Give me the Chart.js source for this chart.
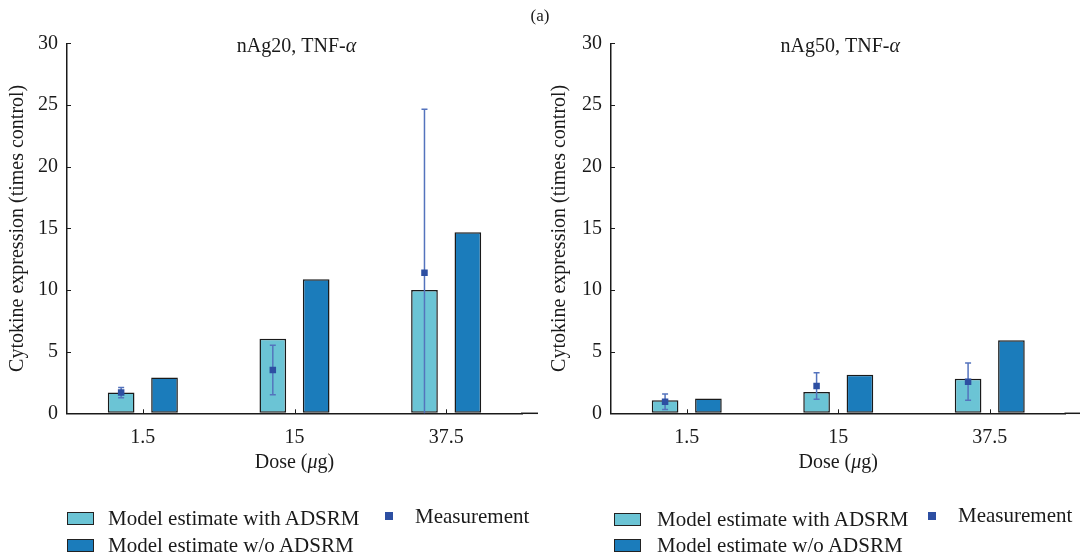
<!DOCTYPE html>
<html>
<head>
<meta charset="utf-8">
<script src="https://cdn.jsdelivr.net/npm/chart.js@4.4.1/dist/chart.umd.min.js"></script>
<style>
html,body{margin:0;padding:0;background:#fff;}
#wrap{position:relative;width:1080px;height:558px;overflow:hidden;font-family:"Liberation Serif","DejaVu Serif",serif;color:#1a1a1a;}
.cv{position:absolute;top:0;width:540px;height:558px;}
.lg{position:absolute;font-size:21px;line-height:22px;white-space:nowrap;}
.box{position:absolute;width:27px;height:13px;box-sizing:border-box;border:1.5px solid #222;}
.sq{position:absolute;width:8px;height:8px;}
#cap{position:absolute;left:0;width:1080px;top:6px;text-align:center;font-size:17px;}
</style>
</head>
<body>
<div id="wrap">
  <canvas id="c1" class="cv" style="left:0" width="540" height="558"></canvas>
  <canvas id="c2" class="cv" style="left:540px" width="540" height="558"></canvas>
  <div id="cap">(a)</div>
  <div id="leg"></div>
</div>
<script>
// ---------- data ----------
const doses = ["1.5", "15", "37.5"];
const yTicks = [0, 5, 10, 15, 20, 25, 30];
const seriesNames = ["Model estimate with ADSRM", "Model estimate w/o ADSRM", "Measurement"];

const ag20With = [1.68, 6.05, 9.99];
const ag20Without = [2.90, 10.86, 14.68];
const ag20Meas = [1.68, 3.51, 11.40];
const ag20MeasErr = [0.42, 2.00, 13.26];

const ag50With = [1.05, 1.73, 2.80];
const ag50Without = [1.21, 3.13, 5.92];
const ag50Meas = [0.94, 2.21, 2.56];
const ag50MeasErr = [0.63, 1.08, 1.51];

// ---------- styles ----------
const FONT = '"Liberation Serif", "DejaVu Serif", serif';
const INK = '#1a1a1a';
const LIGHT = '#6bc4d5';
const DARK = '#1b7cbb';
const MEAS = '#2d4fa2';
const ERR = '#5473bd';

function drawRuns(ctx, runs, cx, cy, size) {
  ctx.save();
  ctx.textBaseline = 'middle';
  ctx.fillStyle = INK;
  let total = 0;
  runs.forEach(r => { ctx.font = (r.italic ? 'italic ' : '') + size + 'px ' + FONT; r.w = ctx.measureText(r.t).width; total += r.w; });
  let x = cx - total / 2;
  runs.forEach(r => { ctx.font = (r.italic ? 'italic ' : '') + size + 'px ' + FONT; ctx.textAlign = 'left'; ctx.fillText(r.t, x, cy); x += r.w; });
  ctx.restore();
}

const extrasPlugin = {
  id: 'extras',
  afterDatasetsUpdate(chart) {
    // place measurement markers on the "with ADSRM" bar of each group
    const barMeta = chart.getDatasetMeta(0);
    const m = chart.getDatasetMeta(2);
    m.data.forEach((el, i) => { el.x = barMeta.data[i].x; });
  },
  beforeDatasetDraw(chart, args, opts) {
    if (args.index !== 2) return;
    const ctx = chart.ctx, ys = chart.scales.y, area = chart.chartArea;
    const vals = chart.data.datasets[2].data;
    const errs = opts.err;
    const m = chart.getDatasetMeta(2);
    ctx.save();
    ctx.beginPath();
    ctx.rect(area.left, area.top - 5, area.right - area.left, area.bottom - area.top + 5);
    ctx.clip();
    ctx.strokeStyle = ERR;
    ctx.lineWidth = 1.5;
    vals.forEach((v, i) => {
      const x = m.data[i].x;
      const yt = ys.getPixelForValue(v + errs[i]);
      const yb = ys.getPixelForValue(v - errs[i]);
      ctx.beginPath();
      ctx.moveTo(x, yt); ctx.lineTo(x, yb);
      ctx.moveTo(x - 3, yt); ctx.lineTo(x + 3, yt);
      ctx.moveTo(x - 3, yb); ctx.lineTo(x + 3, yb);
      ctx.stroke();
    });
    ctx.restore();
  },
  afterDraw(chart, args, opts) {
    const ctx = chart.ctx, area = chart.chartArea;
    const xs = chart.scales.x, ys = chart.scales.y;
    ctx.save();
    ctx.strokeStyle = INK;
    // extend x axis line
    ctx.lineWidth = 1.5;
    ctx.beginPath();
    ctx.moveTo(area.right - 1, area.bottom);
    ctx.lineTo(opts.axisEnd, area.bottom);
    ctx.stroke();
    // inward ticks
    ctx.lineWidth = 1;
    ys.ticks.forEach((t, i) => {
      const y = Math.round(ys.getPixelForTick(i)) + 0.5;
      ctx.beginPath(); ctx.moveTo(area.left, y); ctx.lineTo(area.left + 4, y); ctx.stroke();
    });
    xs.ticks.forEach((t, i) => {
      const x = Math.round(xs.getPixelForTick(i)) + 0.5;
      ctx.beginPath(); ctx.moveTo(x, area.bottom); ctx.lineTo(x, area.bottom - 4); ctx.stroke();
    });
    ctx.restore();
    const cx = (area.left + area.right) / 2;
    drawRuns(ctx, opts.title, cx + 2, 47, 20);
    drawRuns(ctx, [{t: 'Dose ('}, {t: 'μ', italic: true}, {t: 'g)'}], cx, 463, 20);
  }
};

function makeChart(id, withVals, withoutVals, meas, err, titleRuns, yWidth, padRight, titlePad, axisEnd) {
  return new Chart(document.getElementById(id), {
    type: 'bar',
    data: {
      labels: doses,
      datasets: [
        { label: seriesNames[0], data: withVals, backgroundColor: LIGHT, borderColor: INK, borderWidth: 1.5, borderSkipped: false, order: 2 },
        { label: seriesNames[1], data: withoutVals, backgroundColor: DARK, borderColor: INK, borderWidth: 1.5, borderSkipped: false, order: 2 },
        { type: 'line', label: seriesNames[2], data: meas, showLine: false, pointStyle: 'rect', pointRadius: 4.6, pointBorderWidth: 0, pointBackgroundColor: MEAS, backgroundColor: MEAS, borderColor: MEAS, order: 1 }
      ]
    },
    options: {
      responsive: false,
      animation: false,
      events: [],
      categoryPercentage: 0.572,
      barPercentage: 0.615,
      layout: { padding: { left: 0, right: padRight, top: 43.3, bottom: 0 } },
      plugins: {
        legend: { display: false },
        tooltip: { enabled: false },
        title: { display: false },
        extras: { err: err, title: titleRuns, axisEnd: axisEnd }
      },
      scales: {
        x: {
          grid: { display: true, drawOnChartArea: false, drawTicks: false },
          border: { display: true, color: INK, width: 1.5 },
          ticks: { color: INK, font: { family: FONT, size: 20 }, padding: 12 },
          afterFit(s) { s.height = 144.7; }
        },
        y: {
          min: 0, max: 30,
          afterBuildTicks(s) { s.ticks = yTicks.map(v => ({ value: v })); },
          grid: { display: true, drawOnChartArea: false, drawTicks: false },
          border: { display: true, color: INK, width: 1.5 },
          ticks: { color: INK, font: { family: FONT, size: 20 }, padding: 9 },
          title: { display: true, text: 'Cytokine expression (times control)', color: INK, font: { family: FONT, size: 20 }, padding: { top: titlePad, bottom: 0 } },
          afterFit(s) { s.width = yWidth; }
        }
      }
    },
    plugins: [extrasPlugin]
  });
}

makeChart('c1', ag20With, ag20Without, ag20Meas, ag20MeasErr,
  [{t: 'nAg20, TNF-'}, {t: 'α', italic: true}], 67, 18, 6, 538);
makeChart('c2', ag50With, ag50Without, ag50Meas, ag50MeasErr,
  [{t: 'nAg50, TNF-'}, {t: 'α', italic: true}], 71, 14.5, 8, 540);

// ---------- HTML legend ----------
const legendItems = [
  // [left offset of group]
  { x: 0, boxX: 67, textX: 108, r1: 512, r2: 539, t1: 507, t2: 534, sqX: 385, sqY: 512, mX: 415, mY: 505 },
  { x: 540, boxX: 74, textX: 117, r1: 513, r2: 539, t1: 508, t2: 534, sqX: 388, sqY: 512, mX: 418, mY: 504 }
];
const leg = document.getElementById('leg');
legendItems.forEach(g => {
  const add = (html) => { leg.insertAdjacentHTML('beforeend', html); };
  add(`<div class="box" style="left:${g.x + g.boxX}px;top:${g.r1}px;background:${LIGHT}"></div>`);
  add(`<div class="lg" style="left:${g.x + g.textX}px;top:${g.t1}px">${seriesNames[0]}</div>`);
  add(`<div class="box" style="left:${g.x + g.boxX}px;top:${g.r2}px;background:${DARK}"></div>`);
  add(`<div class="lg" style="left:${g.x + g.textX}px;top:${g.t2}px">${seriesNames[1]}</div>`);
  add(`<div class="sq" style="left:${g.x + g.sqX}px;top:${g.sqY}px;background:${MEAS}"></div>`);
  add(`<div class="lg" style="left:${g.x + g.mX}px;top:${g.mY}px">${seriesNames[2]}</div>`);
});
</script>
</body>
</html>
